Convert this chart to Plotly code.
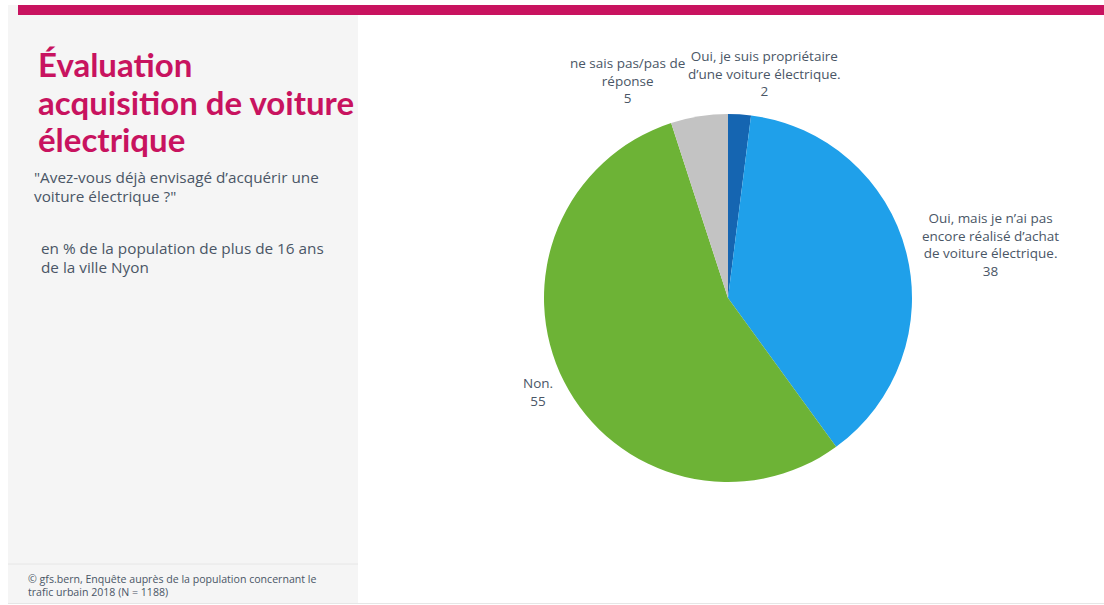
import plotly.graph_objects as go

categories = [
    "Oui, je suis propriétaire<br>d’une voiture électrique.",
    "Oui, mais je n’ai pas<br>encore réalisé d’achat<br>de voiture électrique.",
    "Non.",
    "ne sais pas/pas de<br>réponse",
]
values = [2, 38, 55, 5]
colors = ["#1565b1", "#1fa0ea", "#6db336", "#c3c3c3"]
label_pos = [(764, 73), (990, 244), (538, 392), (627, 80)]  # label centers in px

title_lines = ["Évaluation", "acquisition de voiture", "électrique"]
question_lines = ["\"Avez-vous déjà envisagé d’acquérir une", "voiture électrique ?\""]
unit_lines = ["en % de la population de plus de 16 ans", "de la ville Nyon"]
source_lines = ["© gfs.bern, Enquête auprès de la population concernant le", "trafic urbain 2018 (N = 1188)"]

W, H = 1104, 605
TXT = "#4a5666"
FONT = "Open Sans"

fig = go.Figure()
fig.add_trace(go.Pie(
    labels=categories, values=values, sort=False, direction="clockwise", rotation=0,
    marker=dict(colors=colors, line=dict(width=0)), textinfo="none", hoverinfo="label+value",
    showlegend=False,
    domain=dict(x=[544 / W, 912 / W], y=[1 - 482 / H, 1 - 114 / H]),
))

shapes = [
    dict(type="rect", xref="paper", yref="paper", x0=8 / W, x1=358 / W, y0=1 - 603 / H, y1=1 - 5 / H,
         fillcolor="#f5f5f5", line=dict(width=0), layer="below"),
    dict(type="rect", xref="paper", yref="paper", x0=18 / W, x1=1, y0=1 - 15 / H, y1=1 - 5 / H,
         fillcolor="#c8135f", line=dict(width=0)),
    dict(type="line", xref="paper", yref="paper", x0=8 / W, x1=358 / W, y0=1 - 564 / H, y1=1 - 564 / H,
         line=dict(color="#e6e6e6", width=1)),
    dict(type="line", xref="paper", yref="paper", x0=8 / W, x1=1, y0=1 - 603.5 / H, y1=1 - 603.5 / H,
         line=dict(color="#e6e6e6", width=1)),
]

annotations = []
for cat, v, (px, py) in zip(categories, values, label_pos):
    annotations.append(dict(
        x=px / W, y=1 - py / H, xref="paper", yref="paper", showarrow=False,
        text=f"{cat}<br>{v}", align="center", xanchor="center", yanchor="middle",
        font=dict(family=FONT, size=13.5, color=TXT),
    ))


def add_lines(lines, x, y0, dy, size, color, family, bold=False):
    for i, t in enumerate(lines):
        annotations.append(dict(
            x=x / W, y=1 - (y0 + i * dy) / H, xref="paper", yref="paper", showarrow=False,
            xanchor="left", yanchor="middle", align="left",
            text=f"<b>{t}</b>" if bold else t,
            font=dict(family=family, size=size, color=color),
        ))


add_lines(title_lines, 36, 64, 37.5, 33, "#c8135f", "Lato", bold=True)
add_lines(question_lines, 32, 177, 18.5, 15.3, TXT, FONT)
add_lines(unit_lines, 39, 248, 19, 15.3, TXT, FONT)
add_lines(source_lines, 26, 579, 13, 10.6, TXT, FONT)

fig.update_layout(
    width=W, height=H, margin=dict(l=0, r=0, t=0, b=0),
    paper_bgcolor="white", plot_bgcolor="white",
    shapes=shapes, annotations=annotations,
)

fig.write_html("out.html")
